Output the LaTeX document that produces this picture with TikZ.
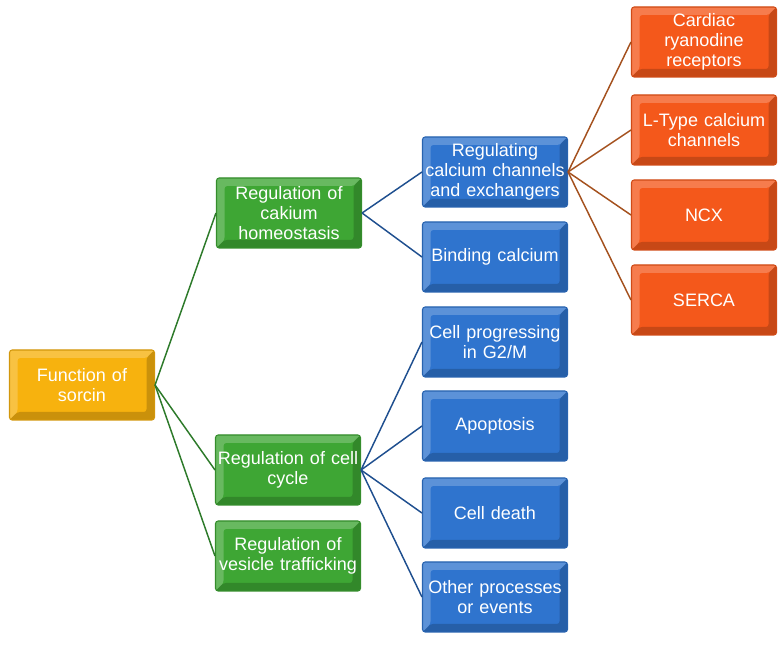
\documentclass[tikz,border=0pt]{standalone}
\usepackage{fontspec}
\setmainfont{Liberation Sans}
\definecolor{sorcinfill}{HTML}{F7B20E}
\definecolor{greenfill}{HTML}{3EA634}
\definecolor{bluefill}{HTML}{2F74CE}
\definecolor{orangefill}{HTML}{F4581B}
\definecolor{greenline}{HTML}{2D7A2A}
\definecolor{blueline}{HTML}{1F4F8F}
\definecolor{orangeline}{HTML}{A4511E}
\begin{document}
\begin{tikzpicture}[x=0.75pt,y=-0.75pt]
\tikzset{box/.style={draw=#1!85!black, fill=#1, rounded corners=2pt,
  minimum width=108.75pt, minimum height=52.5pt, text width=108pt,
  inner xsep=0pt, align=center, text=white, line width=0.8pt,
  font=\fontsize{13.5}{15}\selectfont,
  path picture={
    \fill[white,opacity=.22] (path picture bounding box.north west) -- (path picture bounding box.north east)
      -- ([shift={(-6pt,-6pt)}]path picture bounding box.north east) -- ([shift={(6pt,-6pt)}]path picture bounding box.north west)
      -- ([shift={(6pt,6pt)}]path picture bounding box.south west) -- (path picture bounding box.south west) -- cycle;
    \fill[black,opacity=.18] (path picture bounding box.south east) -- (path picture bounding box.south west)
      -- ([shift={(6pt,6pt)}]path picture bounding box.south west) -- ([shift={(-6pt,6pt)}]path picture bounding box.south east)
      -- ([shift={(-6pt,-6pt)}]path picture bounding box.north east) -- (path picture bounding box.north east) -- cycle;
  }}}%
\tikzset{link/.style={draw=#1, line width=1.1pt}}%
\useasboundingbox (0,0) rectangle (783,648);
% root
\node[box=sorcinfill] (sorcin) at (82,385) {Function of\\sorcin};
% second level
\node[box=greenfill] (calc) at (289,213) {Regulation of\\cakium\\homeostasis};
\node[box=greenfill] (cycle) at (288,470) {Regulation of cell\\cycle};
\node[box=greenfill] (vesicle) at (288,556) {Regulation of\\vesicle trafficking};
% third level
\node[box=bluefill] (chan) at (495,172) {Regulating\\calcium channels\\and exchangers};
\node[box=bluefill] (bind) at (495,257) {Binding calcium};
\node[box=bluefill] (gtwom) at (495,342) {Cell progressing\\in G2/M};
\node[box=bluefill] (apop) at (495,426) {Apoptosis};
\node[box=bluefill] (death) at (495,513) {Cell death};
\node[box=bluefill] (other) at (495,597) {Other processes\\or events};
% fourth level
\node[box=orangefill] (ryr) at (704,42) {Cardiac\\ryanodine\\receptors};
\node[box=orangefill] (ltype) at (704,130) {L-Type calcium\\channels};
\node[box=orangefill] (ncx) at (704,215) {NCX};
\node[box=orangefill] (serca) at (704,300) {SERCA};
% links
\foreach \n in {calc,cycle,vesicle}
  \draw[link=greenline] (sorcin.east) -- (\n.west);
\foreach \n in {chan,bind}
  \draw[link=blueline] (calc.east) -- (\n.west);
\foreach \n in {gtwom,apop,death,other}
  \draw[link=blueline] (cycle.east) -- (\n.west);
\foreach \n in {ryr,ltype,ncx,serca}
  \draw[link=orangeline] (chan.east) -- (\n.west);
\end{tikzpicture}
\end{document}
